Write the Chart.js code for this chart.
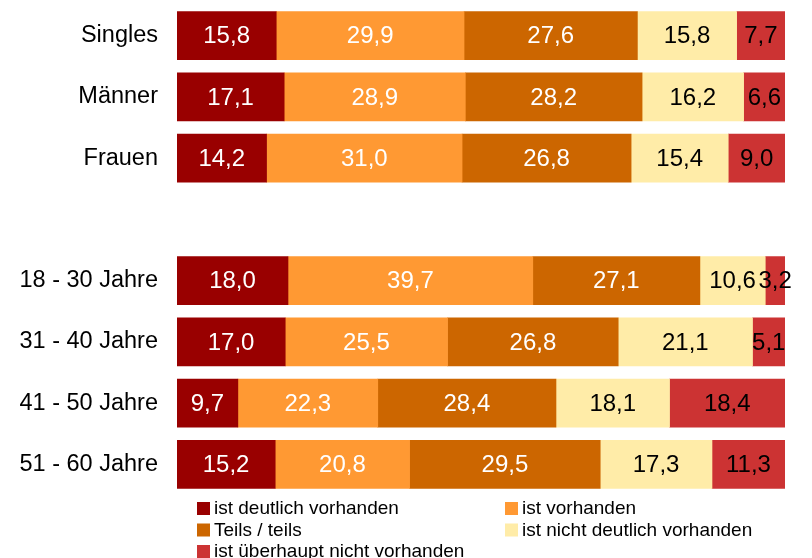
<!DOCTYPE html>
<html>
<head>
<meta charset="utf-8">
<script src="https://cdn.jsdelivr.net/npm/chart.js@4/dist/chart.umd.min.js"></script>
<style>
  html, body { margin: 0; padding: 0; background: #fff; }
  #wrap { width: 812px; height: 558px; position: relative; }
</style>
</head>
<body>
<div id="wrap"><canvas id="chart"></canvas></div>
<script>
// Kategorien (leere Zeile als Abstand zwischen den Gruppen)
var categories = ['Singles', 'Männer', 'Frauen', '', '18 - 30 Jahre', '31 - 40 Jahre', '41 - 50 Jahre', '51 - 60 Jahre'];

var seriesNames = ['ist deutlich vorhanden', 'ist vorhanden', 'Teils / teils', 'ist nicht deutlich vorhanden', 'ist überhaupt nicht vorhanden'];

// Werte in Prozent (wie im Bild beschriftet)
var deutlich      = [15.8, 17.1, 14.2, null, 18.0, 17.0, 9.7, 15.2];
var vorhanden     = [29.9, 28.9, 31.0, null, 39.7, 25.5, 22.3, 20.8];
var teils         = [27.6, 28.2, 26.8, null, 27.1, 26.8, 28.4, 29.5];
var nichtDeutlich = [15.8, 16.2, 15.4, null, 10.6, 21.1, 18.1, 17.3];
var ueberhaupt    = [7.7, 6.6, 9.0, null, 3.2, 5.1, 18.4, 11.3];

var colors = ['#990000', '#FF9933', '#CC6600', '#FFECA8', '#CC3333'];
var labelColors = ['#ffffff', '#ffffff', '#ffffff', '#000000', '#000000'];

var FONT = '"Liberation Sans", Arial, sans-serif';

var raw = [deutlich, vorhanden, teils, nichtDeutlich, ueberhaupt];

// Zeilensummen -> Balken auf 100% strecken
var rowSums = categories.map(function (c, i) {
    var s = 0;
    raw.forEach(function (arr) { if (arr[i] != null) s += arr[i]; });
    return s;
});

var datasets = raw.map(function (arr, k) {
    return {
        label: seriesNames[k],
        rawValues: arr,
        data: arr.map(function (v, i) { return v == null ? null : v / rowSums[i] * 100; }),
        backgroundColor: colors[k],
        borderWidth: 0,
        barThickness: 48
    };
});

// Werte in die Balken schreiben
var valueLabels = {
    id: 'valueLabels',
    afterDatasetsDraw: function (chart) {
        var ctx = chart.ctx;
        ctx.save();
        ctx.font = '24px ' + FONT;
        ctx.textAlign = 'center';
        ctx.textBaseline = 'middle';
        chart.data.datasets.forEach(function (ds, k) {
            var meta = chart.getDatasetMeta(k);
            meta.data.forEach(function (bar, i) {
                var v = ds.rawValues[i];
                if (v == null) return;
                var cx = (bar.x + bar.base) / 2;
                ctx.fillStyle = labelColors[k];
                ctx.fillText(v.toFixed(1).replace('.', ','), cx, bar.y + 1);
            });
        });
        ctx.restore();
    }
};

// Legende unten in zwei Spalten
var legendBox = {
    id: 'legendBox',
    afterDraw: function (chart) {
        var ctx = chart.ctx;
        var colX = [197, 505];
        var rowY = [508, 529.5, 551];
        ctx.save();
        ctx.font = '19px ' + FONT;
        ctx.textBaseline = 'middle';
        ctx.textAlign = 'left';
        chart.data.datasets.forEach(function (ds, k) {
            var x = colX[k % 2];
            var y = rowY[Math.floor(k / 2)];
            ctx.fillStyle = ds.backgroundColor;
            ctx.fillRect(x, y - 6, 13, 13);
            ctx.fillStyle = '#000';
            ctx.fillText(ds.label, x + 17, y + 1);
        });
        ctx.restore();
    }
};

new Chart(document.getElementById('chart'), {
    type: 'bar',
    data: { labels: categories, datasets: datasets },
    plugins: [valueLabels, legendBox],
    options: {
        indexAxis: 'y',
        responsive: true,
        maintainAspectRatio: false,
        animation: false,
        layout: { padding: { top: 5, right: 27, bottom: 63, left: 0 } },
        plugins: {
            legend: { display: false },
            tooltip: { enabled: false }
        },
        scales: {
            x: {
                stacked: true,
                min: 0,
                max: 100,
                display: false
            },
            y: {
                stacked: true,
                grid: { display: false, drawTicks: false },
                border: { display: false },
                ticks: {
                    color: '#000',
                    padding: 19,
                    font: { size: 23.5, family: FONT }
                },
                afterFit: function (scale) {
                    scale.width = 177;
                    // keine Extra-Abstände für die äußeren Beschriftungen
                    scale.paddingTop = 0;
                    scale.paddingBottom = 0;
                }
            }
        }
    }
});
</script>
</body>
</html>
